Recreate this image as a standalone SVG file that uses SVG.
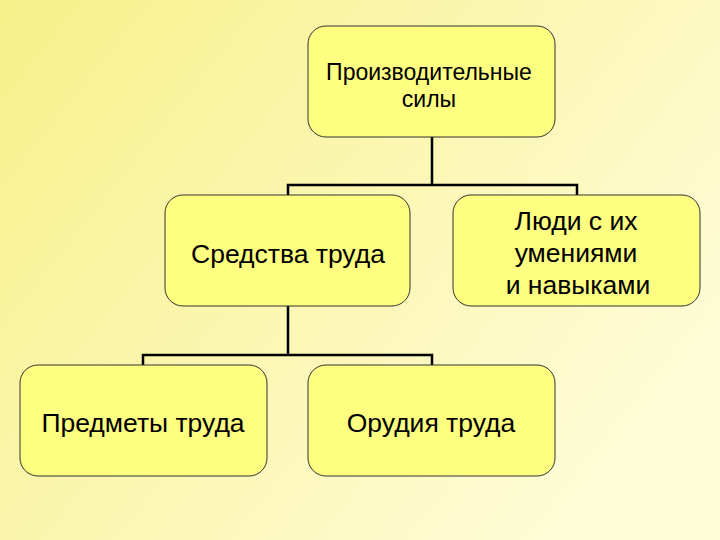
<svg xmlns="http://www.w3.org/2000/svg" width="720" height="540" viewBox="0 0 720 540">
<defs>
<linearGradient id="bg" x1="0" y1="0" x2="1" y2="0.6">
<stop offset="0" stop-color="#f8f08a"/>
<stop offset="1" stop-color="#fefcd6"/>
</linearGradient>
<style>
.box{fill:#fefe80;stroke:#333;stroke-width:1}
.ln{stroke:#000;stroke-width:2.5;fill:none}
text{font-family:"Liberation Sans",Arial,sans-serif;font-size:26.5px;text-anchor:middle;fill:#000}
.sm{font-size:23px}
</style>
</defs>
<rect width="720" height="540" fill="url(#bg)"/>
<g id="connectors">
<path class="ln" d="M432 137V185M288 195V185H577V195"/>
<path class="ln" d="M288 306V355M143 365V355H432V365"/>
</g>
<g id="n-top"><rect class="box" x="308" y="26" width="247" height="111" rx="18"/>
<text class="sm" x="429" y="80">Производительные</text><text class="sm" x="429" y="107">силы</text></g>
<g id="n-sredstva"><rect class="box" x="165" y="195" width="245" height="111" rx="18"/>
<text x="288" y="263">Средства труда</text></g>
<g id="n-lyudi"><rect class="box" x="453" y="195" width="247" height="111" rx="18"/>
<text x="576" y="230">Люди с их</text><text x="576" y="262">умениями</text><text x="578" y="294">и навыками</text></g>
<g id="n-predmety"><rect class="box" x="20" y="365" width="247" height="111" rx="18"/>
<text x="143" y="432">Предметы труда</text></g>
<g id="n-orudiya"><rect class="box" x="308" y="365" width="247" height="111" rx="18"/>
<text x="431" y="432">Орудия труда</text></g>
</svg>
